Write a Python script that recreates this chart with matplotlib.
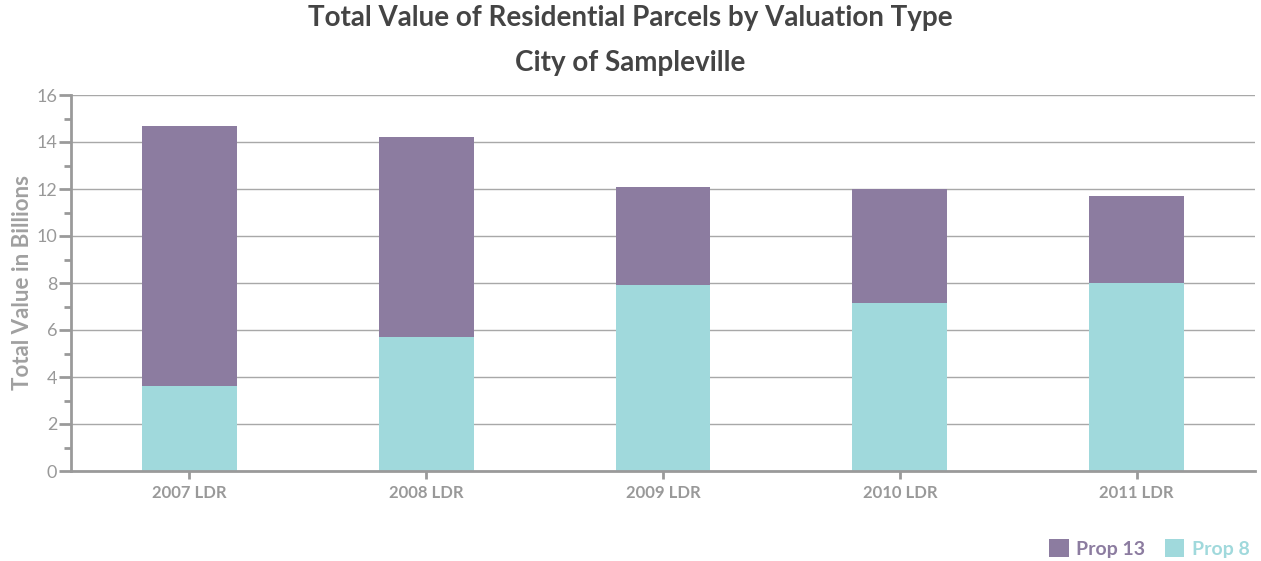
import matplotlib
matplotlib.use("Agg")
import matplotlib.pyplot as plt
from matplotlib.patches import Patch
from matplotlib.ticker import MultipleLocator
import numpy as np

plt.rcParams["font.family"] = ["Lato", "DejaVu Sans"]

# dados
categorias = ["2007 LDR", "2008 LDR", "2009 LDR", "2010 LDR", "2011 LDR"]
prop8 = [3.6, 5.7, 7.9, 7.15, 8.0]
prop13 = [11.1, 8.5, 4.2, 4.85, 3.7]

COR_P13 = "#8C7CA0"
COR_P8 = "#A0D9DC"
CINZA = "#999999"
EIXO = "#9A9A9A"

fig = plt.figure(figsize=(12.61, 5.61), dpi=100)
ax = fig.add_axes([71/1261, 90/561, (1255-71)/1261, (471-95)/561])

x = np.arange(len(categorias))
w = 0.4
ax.bar(x, prop8, w, color=COR_P8, zorder=2)
ax.bar(x, prop13, w, bottom=prop8, color=COR_P13, zorder=2)

ax.set_xlim(-0.5, len(categorias) - 0.5)
ax.set_ylim(0, 16)
ax.yaxis.set_major_locator(MultipleLocator(2))
ax.yaxis.set_minor_locator(MultipleLocator(1))
ax.yaxis.grid(True, color="#A8A8A8", linewidth=1.0)
ax.set_axisbelow(True)

ax.set_xticks(x)
ax.set_xticklabels(categorias, fontsize=12, color=CINZA, fontweight="bold")
ax.tick_params(axis="x", length=6, width=2, color=EIXO, pad=4)
ax.tick_params(axis="y", which="major", length=9, width=2, color=EIXO,
               labelsize=13, labelcolor=CINZA, pad=1)
ax.tick_params(axis="y", which="minor", length=5, width=2, color=EIXO)

for s in ["top", "right"]:
    ax.spines[s].set_visible(False)
for s in ["left", "bottom"]:
    ax.spines[s].set_color(EIXO)
    ax.spines[s].set_linewidth(2)

ax.set_ylabel("Total Value in Billions", fontsize=16, color="#A0A0A0",
              fontweight="bold", labelpad=2)

fig.text(0.5, 1 - 18/561, "Total Value of Residential Parcels by Valuation Type",
         ha="center", va="center", fontsize=20, fontweight="bold", color="#444444")
fig.text(0.5, 1 - 63/561, "City of Sampleville",
         ha="center", va="center", fontsize=20, fontweight="bold", color="#444444")

handles = [Patch(facecolor=COR_P13, label="Prop 13"),
           Patch(facecolor=COR_P8, label="Prop 8")]
leg = fig.legend(handles=handles, loc="lower right", bbox_to_anchor=(1.005, -0.025),
                 ncol=2, frameon=False, fontsize=14, handlelength=1.0,
                 handleheight=1.0, handletextpad=0.4, columnspacing=1.0,
                 labelcolor=[COR_P13, COR_P8])
for t in leg.get_texts():
    t.set_fontweight("bold")

fig.savefig("out.png", dpi=100)
